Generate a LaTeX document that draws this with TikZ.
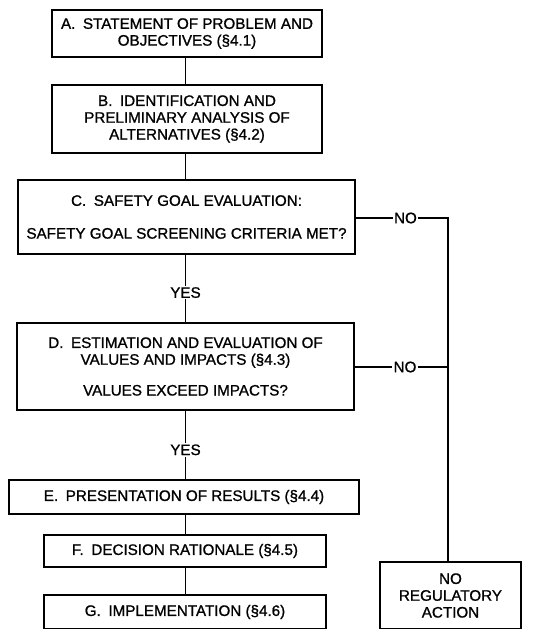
\documentclass[tikz,border=0pt]{standalone}
\usepackage{fontspec}
\setmainfont[FakeBold=1]{Liberation Sans}
\begin{document}
\begin{tikzpicture}[x=1pt,y=-1pt,
  every node/.style={font=\fontsize{15.2}{16.8}\selectfont},
  stepbox/.style={draw,line width=1.1pt,align=center,inner sep=0pt},
  link/.style={line width=1.1pt},
  lbl/.style={fill=white,inner sep=1.5pt}]
\useasboundingbox (0,0) rectangle (534,629);

% process boxes
\node[stepbox,minimum width=270,minimum height=47] (A) at (187,33.5)
  {A.\enspace STATEMENT OF PROBLEM AND\\ OBJECTIVES (§4.1)};
\node[stepbox,minimum width=270,minimum height=68] (B) at (187,119)
  {B.\enspace IDENTIFICATION AND\\ PRELIMINARY ANALYSIS OF\\ ALTERNATIVES (§4.2)};
\node[stepbox,minimum width=337,minimum height=74] (C) at (186.5,217)
  {C.\enspace SAFETY GOAL EVALUATION:\\[16pt] SAFETY GOAL SCREENING CRITERIA MET?};
\node[stepbox,minimum width=337,minimum height=87] (D) at (185.5,366.5)
  {D.\enspace ESTIMATION AND EVALUATION OF\\ VALUES AND IMPACTS (§4.3)\\[14pt] VALUES EXCEED IMPACTS?};
\node[stepbox,minimum width=350,minimum height=34] (E) at (184,497)
  {E.\enspace PRESENTATION OF RESULTS (§4.4)};
\node[stepbox,minimum width=282,minimum height=32] (F) at (185,551)
  {F.\enspace DECISION RATIONALE (§4.5)};
\node[stepbox,minimum width=282,minimum height=34] (G) at (185,612)
  {G.\enspace IMPLEMENTATION (§4.6)};
\node[stepbox,minimum width=141,minimum height=67] (N) at (450.5,595.5)
  {NO\\ REGULATORY\\ ACTION};

% main flow
\draw[link] (A.south -| 185.5,0) -- (B.north -| 185.5,0);
\draw[link] (B.south -| 185.5,0) -- (C.north -| 185.5,0);
\draw[link] (C.south -| 185.5,0) -- node[lbl,pos=0.56] {YES} (D.north -| 185.5,0);
\draw[link] (D.south -| 185.5,0) -- node[lbl,pos=0.57] {YES} (E.north -| 185.5,0);
\draw[link] (E.south -| 185.5,0) -- (F.north -| 185.5,0);
\draw[link] (F.south -| 185.5,0) -- (G.north -| 185.5,0);

% rejection branch
\coordinate (c1) at (448,218);
\coordinate (d1) at (448,367);
\draw[link] (C.east |- c1) -- node[lbl,pos=0.54] {NO} (c1) -- (N.north -| c1);
\draw[link] (D.east |- d1) -- node[lbl,pos=0.54] {NO} (d1);
\end{tikzpicture}
\end{document}
